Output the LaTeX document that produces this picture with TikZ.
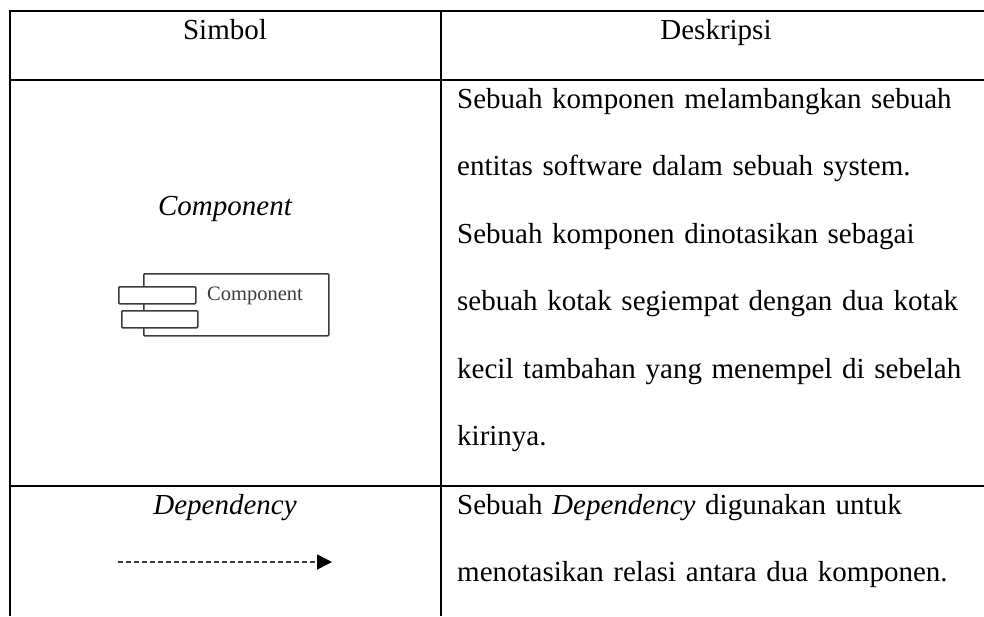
\documentclass[tikz,border=0pt]{standalone}
\usepackage{fontspec}
\setmainfont{Liberation Serif}
\usetikzlibrary{arrows.meta,positioning}
\definecolor{symgray}{RGB}{60,60,60}

\begin{document}
\begin{tikzpicture}[x=1pt, y=-1pt,
    grid/.style={line width=2pt, black},
    head/.style={font=\fontsize{29}{34}\selectfont, anchor=base, inner sep=0pt},
    symlabel/.style={font=\fontsize{29}{34}\selectfont\itshape, anchor=base, inner sep=0pt},
    desc/.style={font=\fontsize{29}{67.5}\selectfont, text width=520pt, align=left,
        anchor=base west, inner sep=0pt},
    compbox/.style={draw=symgray, line width=1.5pt, rounded corners=1pt, fill=white,
        inner sep=0pt, anchor=north west},
    dep/.style={draw=symgray, line width=1.5pt, dash pattern=on 5pt off 3pt,
        -{Triangle[length=15pt, width=15pt, color=black]}}
]
    \useasboundingbox (0,0) rectangle (984,616);
    % table rules
    \draw[grid] (10,11) -- (984,11);
    \draw[grid] (10,80) -- (984,80);
    \draw[grid] (10,486) -- (984,486);
    \draw[grid] (10,10) -- (10,616);
    \draw[grid] (441,10) -- (441,616);

    % header
    \node[head] (hsym) at (225,39) {Simbol};
    \node[head] (hdesc) at (716,39) {Deskripsi};

    % component row
    \node[symlabel] (lcomp) at (225,215) {Component};
    \node[compbox, minimum width=185pt, minimum height=62pt] (comp) at (143,273) {};
    \node[compbox, minimum width=77pt, minimum height=17pt] (port1) at (118,286) {};
    \node[compbox, minimum width=76pt, minimum height=17pt] (port2) at (121,310) {};
    \node[font=\fontsize{20.5}{24}\selectfont, text=symgray, anchor=base west,
        inner sep=0pt] (comptext) at (207,300) {Component};
    \node[desc] (dcomp) at (457,108) {
        Sebuah komponen melambangkan sebuah\\
        entitas software dalam sebuah system.\\
        Sebuah komponen dinotasikan sebagai\\
        sebuah kotak segiempat dengan dua kotak\\
        kecil tambahan yang menempel di sebelah\\
        kirinya.
    };

    % dependency row
    \node[symlabel] (ldep) at (225,514) {Dependency};
    \coordinate (depA) at (118,562);
    \coordinate (depB) at (332,562);
    \draw[dep] (depA) -- (depB);
    \node[desc] (ddep) at (457,514) {
        Sebuah \textit{Dependency} digunakan untuk\\
        menotasikan relasi antara dua komponen.
    };
\end{tikzpicture}
\end{document}
